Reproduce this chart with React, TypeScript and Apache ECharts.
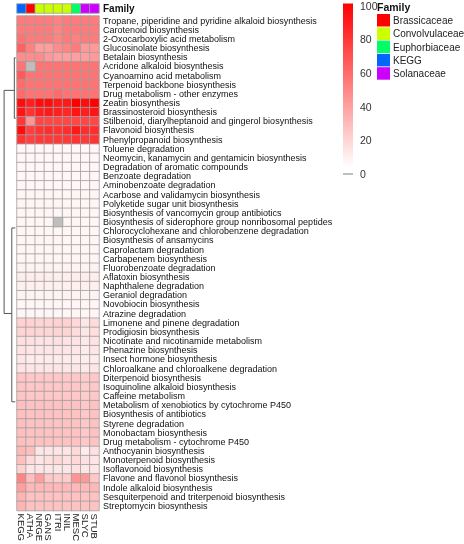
import React, { useEffect, useRef } from "react";
import * as echarts from "echarts";

const samples = ["KEGG", "ATHA", "NRGE", "GANS", "ITRI", "INIL", "MESC", "SLYC", "STUB"];
const sampleFamily = ["KEGG", "Brassicaceae", "Convolvulaceae", "Convolvulaceae", "Convolvulaceae", "Convolvulaceae", "Euphorbiaceae", "Solanaceae", "Solanaceae"];
const families = ["Brassicaceae", "Convolvulaceae", "Euphorbiaceae", "KEGG", "Solanaceae"];
const familyColors = ["#FF0000", "#CCFF00", "#00FF66", "#0066FF", "#CC00FF"];
const naColor = "#BEBEBE";

const pathways = [
  "Tropane, piperidine and pyridine alkaloid biosynthesis",
  "Carotenoid biosynthesis",
  "2-Oxocarboxylic acid metabolism",
  "Glucosinolate biosynthesis",
  "Betalain biosynthesis",
  "Acridone alkaloid biosynthesis",
  "Cyanoamino acid metabolism",
  "Terpenoid backbone biosynthesis",
  "Drug metabolism - other enzymes",
  "Zeatin biosynthesis",
  "Brassinosteroid biosynthesis",
  "Stilbenoid, diarylheptanoid and gingerol biosynthesis",
  "Flavonoid biosynthesis",
  "Phenylpropanoid biosynthesis",
  "Toluene degradation",
  "Neomycin, kanamycin and gentamicin biosynthesis",
  "Degradation of aromatic compounds",
  "Benzoate degradation",
  "Aminobenzoate degradation",
  "Acarbose and validamycin biosynthesis",
  "Polyketide sugar unit biosynthesis",
  "Biosynthesis of vancomycin group antibiotics",
  "Biosynthesis of siderophore group nonribosomal peptides",
  "Chlorocyclohexane and chlorobenzene degradation",
  "Biosynthesis of ansamycins",
  "Caprolactam degradation",
  "Carbapenem biosynthesis",
  "Fluorobenzoate degradation",
  "Aflatoxin biosynthesis",
  "Naphthalene degradation",
  "Geraniol degradation",
  "Novobiocin biosynthesis",
  "Atrazine degradation",
  "Limonene and pinene degradation",
  "Prodigiosin biosynthesis",
  "Nicotinate and nicotinamide metabolism",
  "Phenazine biosynthesis",
  "Insect hormone biosynthesis",
  "Chloroalkane and chloroalkene degradation",
  "Diterpenoid biosynthesis",
  "Isoquinoline alkaloid biosynthesis",
  "Caffeine metabolism",
  "Metabolism of xenobiotics by cytochrome P450",
  "Biosynthesis of antibiotics",
  "Styrene degradation",
  "Monobactam biosynthesis",
  "Drug metabolism - cytochrome P450",
  "Anthocyanin biosynthesis",
  "Monoterpenoid biosynthesis",
  "Isoflavonoid biosynthesis",
  "Flavone and flavonol biosynthesis",
  "Indole alkaloid biosynthesis",
  "Sesquiterpenoid and triterpenoid biosynthesis",
  "Streptomycin biosynthesis",
];

// null = missing value (grey)
const abundance: (number | null)[][] = [
  [52, 52, 52, 52, 50, 52, 52, 52, 52],
  [52, 52, 52, 52, 48, 52, 52, 52, 52],
  [55, 52, 52, 52, 48, 52, 50, 52, 52],
  [62, 50, 38, 38, 45, 48, 52, 40, 40],
  [45, 45, 45, 40, 38, 38, 38, 38, 40],
  [55, null, 55, 55, 55, 55, 55, 55, 55],
  [65, 55, 55, 55, 55, 55, 55, 55, 55],
  [58, 55, 55, 55, 55, 55, 55, 55, 55],
  [58, 55, 55, 55, 58, 55, 55, 55, 55],
  [95, 88, 95, 95, 90, 90, 100, 95, 100],
  [92, 80, 88, 90, 88, 85, 92, 88, 92],
  [78, 42, 72, 72, 72, 72, 72, 72, 72],
  [95, 75, 80, 82, 80, 82, 90, 82, 82],
  [80, 75, 78, 78, 78, 78, 80, 78, 80],
  [3, 3, 3, 3, 3, 3, 3, 3, 3],
  [3, 3, 3, 3, 3, 3, 3, 3, 3],
  [3, 3, 3, 3, 3, 3, 3, 3, 3],
  [3, 3, 3, 3, 3, 3, 3, 3, 3],
  [3, 3, 3, 3, 3, 3, 3, 3, 3],
  [4, 4, 4, 4, 4, 4, 4, 4, 4],
  [4, 4, 4, 4, 4, 4, 4, 4, 4],
  [4, 4, 4, 4, 4, 4, 4, 4, 4],
  [4, 4, 4, 4, null, 4, 4, 4, 4],
  [4, 4, 4, 4, 4, 4, 4, 4, 4],
  [4, 4, 4, 4, 4, 4, 4, 4, 4],
  [4, 4, 4, 4, 4, 4, 4, 4, 4],
  [4, 4, 4, 4, 4, 4, 4, 4, 4],
  [5, 5, 5, 5, 5, 5, 5, 5, 5],
  [7, 7, 7, 7, 7, 7, 7, 7, 7],
  [6, 6, 6, 6, 6, 6, 6, 6, 6],
  [5, 5, 5, 5, 5, 5, 5, 5, 5],
  [4, 4, 4, 4, 4, 4, 4, 4, 4],
  [4, 4, 4, 4, 4, 4, 4, 4, 4],
  [18, 18, 17, 17, 18, 18, 15, 10, 14],
  [17, 17, 16, 16, 17, 17, 14, 10, 13],
  [12, 12, 11, 11, 12, 11, 11, 9, 11],
  [11, 10, 10, 10, 10, 10, 10, 8, 10],
  [10, 8, 8, 8, 8, 8, 8, 7, 8],
  [11, 10, 10, 10, 10, 10, 10, 9, 10],
  [23, 22, 22, 22, 22, 22, 22, 20, 22],
  [23, 22, 22, 22, 22, 22, 22, 20, 22],
  [23, 22, 22, 22, 22, 22, 22, 20, 22],
  [25, 24, 24, 24, 24, 24, 24, 22, 24],
  [25, 24, 24, 24, 24, 24, 24, 22, 24],
  [25, 24, 24, 24, 24, 24, 24, 22, 24],
  [25, 24, 24, 24, 24, 24, 24, 22, 24],
  [25, 24, 24, 24, 24, 24, 24, 22, 24],
  [28, 25, 10, 10, 10, 10, 15, 8, 12],
  [25, 15, 10, 12, 15, 12, 15, 12, 10],
  [18, 10, 10, 10, 10, 10, 12, 10, 10],
  [48, 25, 38, 22, 20, 20, 42, 40, 22],
  [38, 28, 28, 28, 28, 28, 28, 28, 28],
  [30, 24, 24, 24, 24, 24, 24, 24, 24],
  [30, 24, 24, 24, 24, 24, 24, 24, 24],
];

const legendTicks = [0, 20, 40, 60, 80, 100];

// dendrogram segments in (depth, row) units
const dendroSegments = [
  [[0.12, 4], [0.12, 10.5]],
  [[0.12, 7.5], [0.85, 7.5]],
  [[0.85, 7.5], [0.85, 31.5]],
  [[0.85, 31.5], [0.3, 31.5]],
  [[0.3, 22.3], [0.3, 41]],
  [[0.3, 22.3], [0.05, 22.3]],
  [[0.3, 41], [0.05, 41]],
  [[0.02, 4], [0.12, 4]],
  [[0.02, 10.5], [0.12, 10.5]],
];

export default function App() {
  const ref = useRef<HTMLDivElement>(null);
  useEffect(() => {
    if (!ref.current) return;
    const chart = echarts.init(ref.current, null, { renderer: "svg" });

    const heatData: any[] = [];
    const naData: any[] = [];
    abundance.forEach((row, r) => {
      row.forEach((v, c) => {
        if (v === null) naData.push([c, r, -1]);
        else heatData.push([c, r, v]);
      });
    });
    const famData = samples.map((s, i) => [i, 0, families.indexOf(sampleFamily[i])]);

    const gridLeft = 17;
    const gridTop = 16;
    const gridW = 82;
    const gridH = 502;
    const rowH = gridH / pathways.length;

    const legTop = 5.5;
    const legBottom = 174;
    const yOf = (v: number) => legBottom - (v / 100) * (legBottom - legTop);

    const graphic: any[] = [];
    graphic.push({
      type: "rect",
      shape: { x: 343, y: yOf(100) - 2, width: 10, height: yOf(4) - yOf(100) + 2 },
      style: {
        fill: new echarts.graphic.LinearGradient(0, 0, 0, 1, [
          { offset: 0, color: "#FF0000" },
          { offset: 1, color: "#FFFFFF" },
        ]),
      },
    });
    graphic.push({
      type: "line",
      shape: { x1: 343, y1: yOf(0), x2: 353, y2: yOf(0) },
      style: { stroke: naColor, lineWidth: 2 },
    });
    legendTicks.forEach((t) => {
      graphic.push({
        type: "text",
        x: 360,
        y: yOf(t),
        style: { text: String(t), fontSize: 10.5, fill: "#333", verticalAlign: "middle", fontFamily: "Liberation Sans" },
      });
    });
    graphic.push({
      type: "text",
      x: 377,
      y: 7,
      style: { text: "Family", fontSize: 10.5, fontWeight: "bold", fill: "#111", verticalAlign: "middle", fontFamily: "Liberation Sans" },
    });
    families.forEach((f, i) => {
      const y = 14 + i * 13.3;
      graphic.push({
        type: "rect",
        shape: { x: 377, y, width: 13, height: 12.5 },
        style: { fill: familyColors[i] },
      });
      graphic.push({
        type: "text",
        x: 393,
        y: y + 6.5,
        style: { text: f, fontSize: 10, fill: "#222", verticalAlign: "middle", fontFamily: "Liberation Sans" },
      });
    });
    const dendroW = 14;
    dendroSegments.forEach(([a, b]) => {
      graphic.push({
        type: "line",
        shape: {
          x1: gridLeft - 1 - a[0] * dendroW,
          y1: gridTop + (a[1] + 0.5) * rowH,
          x2: gridLeft - 1 - b[0] * dendroW,
          y2: gridTop + (b[1] + 0.5) * rowH,
        },
        style: { stroke: "#555", lineWidth: 1 },
      });
    });

    chart.setOption({
      animation: false,
      textStyle: { fontFamily: "Liberation Sans" },
      grid: [
        { left: gridLeft, top: gridTop, width: gridW, height: gridH },
        { left: gridLeft, top: 4, width: gridW, height: 9 },
      ],
      xAxis: [
        {
          type: "category",
          data: samples,
          gridIndex: 0,
          position: "bottom",
          axisLine: { show: false },
          axisTick: { show: false },
          splitLine: { show: false },
          axisLabel: { rotate: -90, fontSize: 9.5, color: "#222", margin: 3, interval: 0, lineHeight: 9 },
        },
        {
          type: "category",
          data: samples,
          gridIndex: 1,
          show: false,
        },
      ],
      yAxis: [
        {
          type: "category",
          data: pathways,
          gridIndex: 0,
          inverse: true,
          position: "right",
          axisLine: { show: false },
          axisTick: { show: false },
          splitLine: { show: false },
          axisLabel: { fontSize: 9, lineHeight: 9, color: "#111", margin: 4, interval: 0 },
        },
        {
          type: "category",
          data: ["Family"],
          gridIndex: 1,
          position: "right",
          axisLine: { show: false },
          axisTick: { show: false },
          axisLabel: { fontSize: 10, fontWeight: "bold", color: "#111", margin: 4 },
        },
      ],
      visualMap: [
        {
          type: "continuous",
          show: false,
          seriesIndex: 0,
          min: 0,
          max: 100,
          inRange: { color: ["#FFFFFF", "#FF0000"] },
        },
        {
          type: "piecewise",
          show: false,
          seriesIndex: [1, 2],
          pieces: [
            ...familyColors.map((c, i) => ({ value: i, color: c })),
            { value: -1, color: naColor },
          ],
        },
      ],
      series: [
        {
          type: "heatmap",
          xAxisIndex: 0,
          yAxisIndex: 0,
          data: heatData,
          itemStyle: { borderColor: "#A0A0A0", borderWidth: 0.8 },
        },
        {
          type: "heatmap",
          xAxisIndex: 1,
          yAxisIndex: 1,
          data: famData,
          itemStyle: { borderColor: "#A0A0A0", borderWidth: 0.8 },
        },
        {
          type: "heatmap",
          xAxisIndex: 0,
          yAxisIndex: 0,
          data: naData,
          itemStyle: { borderColor: "#A0A0A0", borderWidth: 0.8 },
        },
      ],
      graphic,
    });
    return () => chart.dispose();
  }, []);
  return <div ref={ref} style={{ position: "fixed", left: 0, top: 0, width: 464, height: 544 }} />;
}
